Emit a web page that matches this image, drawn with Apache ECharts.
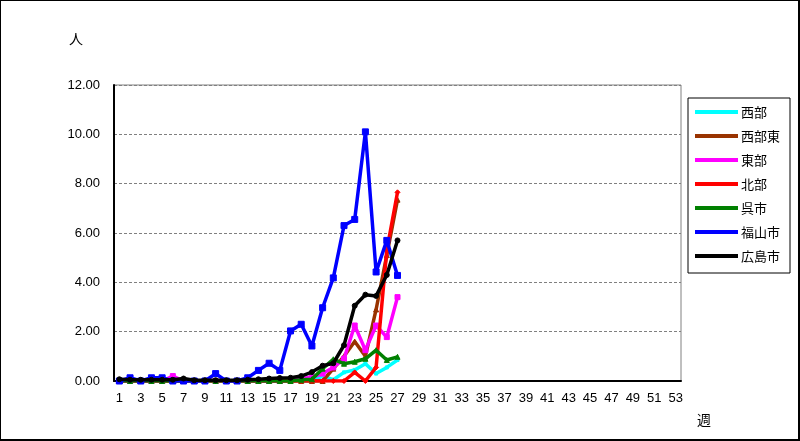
<!DOCTYPE html>
<html><head><meta charset="utf-8">
<script src="https://cdn.jsdelivr.net/npm/echarts@6/dist/echarts.min.js"></script>
<style>
html,body{margin:0;padding:0;background:#fff;}
#c{width:800px;height:441px;box-sizing:border-box;border:1px solid #000;border-right-width:2px;border-bottom-width:2px;}
</style></head>
<body><div id="c"></div>
<script>
const weeks = ['1','2','3','4','5','6','7','8','9','10','11','12','13','14','15','16','17','18','19','20','21','22','23','24','25','26','27','28','29','30','31','32','33','34','35','36','37','38','39','40','41','42','43','44','45','46','47','48','49','50','51','52','53'];
const seriesNames = ['西部','西部東','東部','北部','呉市','福山市','広島市'];
const west      = [0,0,0,0,0,0,0,0,0,0,0,0,0,0,0,0,0,0,0,0.2,0.05,0.35,0.45,0.7,0.3,0.55,0.85];
const westEast  = [0,0,0,0,0,0,0,0,0,0,0,0,0,0,0,0,0,0,0,0,0.5,1.0,1.6,1.0,2.9,5.1,7.35];
const east      = [0,0,0,0,0,0.2,0,0,0,0,0,0,0,0,0,0,0.05,0.1,0.15,0.3,0.55,0.9,2.25,1.25,2.25,1.78,3.4];
const north     = [0,0,0,0,0,0,0,0,0,0,0,0,0,0,0,0,0,0,0,0,0,0,0.35,0,0.55,5.3,7.65];
const kure      = [0,0,0,0,0,0,0,0,0,0,0,0,0,0,0,0,0,0.05,0.07,0.5,0.88,0.7,0.78,0.9,1.25,0.85,0.98];
const fukuyama  = [0,0.13,0,0.13,0.13,0,0,0,0,0.3,0,0,0.13,0.43,0.72,0.43,2.03,2.3,1.42,2.97,4.18,6.3,6.55,10.1,4.42,5.7,4.28];
const hiroshima = [0.07,0.05,0.05,0.05,0.05,0.05,0.1,0.03,0.03,0.03,0.03,0.03,0.05,0.07,0.1,0.12,0.13,0.2,0.36,0.62,0.72,1.45,3.05,3.5,3.45,4.3,5.7];
const yTicks = [0,2,4,6,8,10,12];
const yUnit = '人';
const xUnit = '週';

const colors = ['#00FFFF','#993300','#FF00FF','#FF0000','#008000','#0000FF','#000000'];
const symbols = ['rect','triangle','rect','diamond','triangle','rect','circle'];
const symSizes = [3,5,5,5,5,6,5];
const datas = [west,westEast,east,north,kure,fukuyama,hiroshima];

const chart = echarts.init(document.getElementById('c'));
const jp = '"Noto Sans CJK JP", sans-serif';
chart.setOption({
  animation:false,
  backgroundColor:'#fff',
  grid:{left:113,top:84,width:567,height:296,show:true,borderColor:'#808080',borderWidth:1,backgroundColor:'transparent'},
  graphic:[
    {type:'text',left:68,top:31,style:{text:yUnit,font:'14px "Noto Sans CJK JP"',fill:'#000'}},
    {type:'text',left:696,top:412,style:{text:xUnit,font:'14px "Noto Sans CJK JP"',fill:'#000'}}
  ],
  xAxis:{
    type:'category', data:weeks, boundaryGap:true,
    axisLine:{lineStyle:{color:'#000',width:2}},
    axisTick:{inside:true,length:5,lineStyle:{color:'#000'},interval:0},
    axisLabel:{interval:1,color:'#000',fontFamily:'Liberation Sans, sans-serif',fontSize:13,margin:11}
  },
  yAxis:{
    type:'value', min:yTicks[0], max:yTicks[yTicks.length-1], interval:2,
    axisLine:{show:true,lineStyle:{color:'#000',width:2}},
    axisTick:{show:false},
    splitLine:{lineStyle:{color:'#808080',type:[3,2],width:1}},
    axisLabel:{color:'#000',fontFamily:'Liberation Sans, sans-serif',fontSize:13,margin:14,formatter:v=>v.toFixed(2)}
  },
  legend:{
    orient:'vertical', left:687, top:97, width:90,
    backgroundColor:'#fff', borderColor:'#000', borderWidth:1,
    padding:[5,10,8,7], itemGap:6, itemWidth:43, itemHeight:4,
    icon:'rect',
    textStyle:{fontFamily:jp,fontSize:13,color:'#000',padding:[0,0,0,-2],lineHeight:18},
    data:seriesNames
  },
  series: seriesNames.map((n,i)=>({
    name:n, type:'line', data:datas[i],
    symbol:symbols[i], symbolSize:symSizes[i], showSymbol:true,
    lineStyle:{color:colors[i],width:3.5},
    itemStyle:{color:colors[i],borderColor:colors[i]},
    z:2+i
  }))
});
</script></body></html>
